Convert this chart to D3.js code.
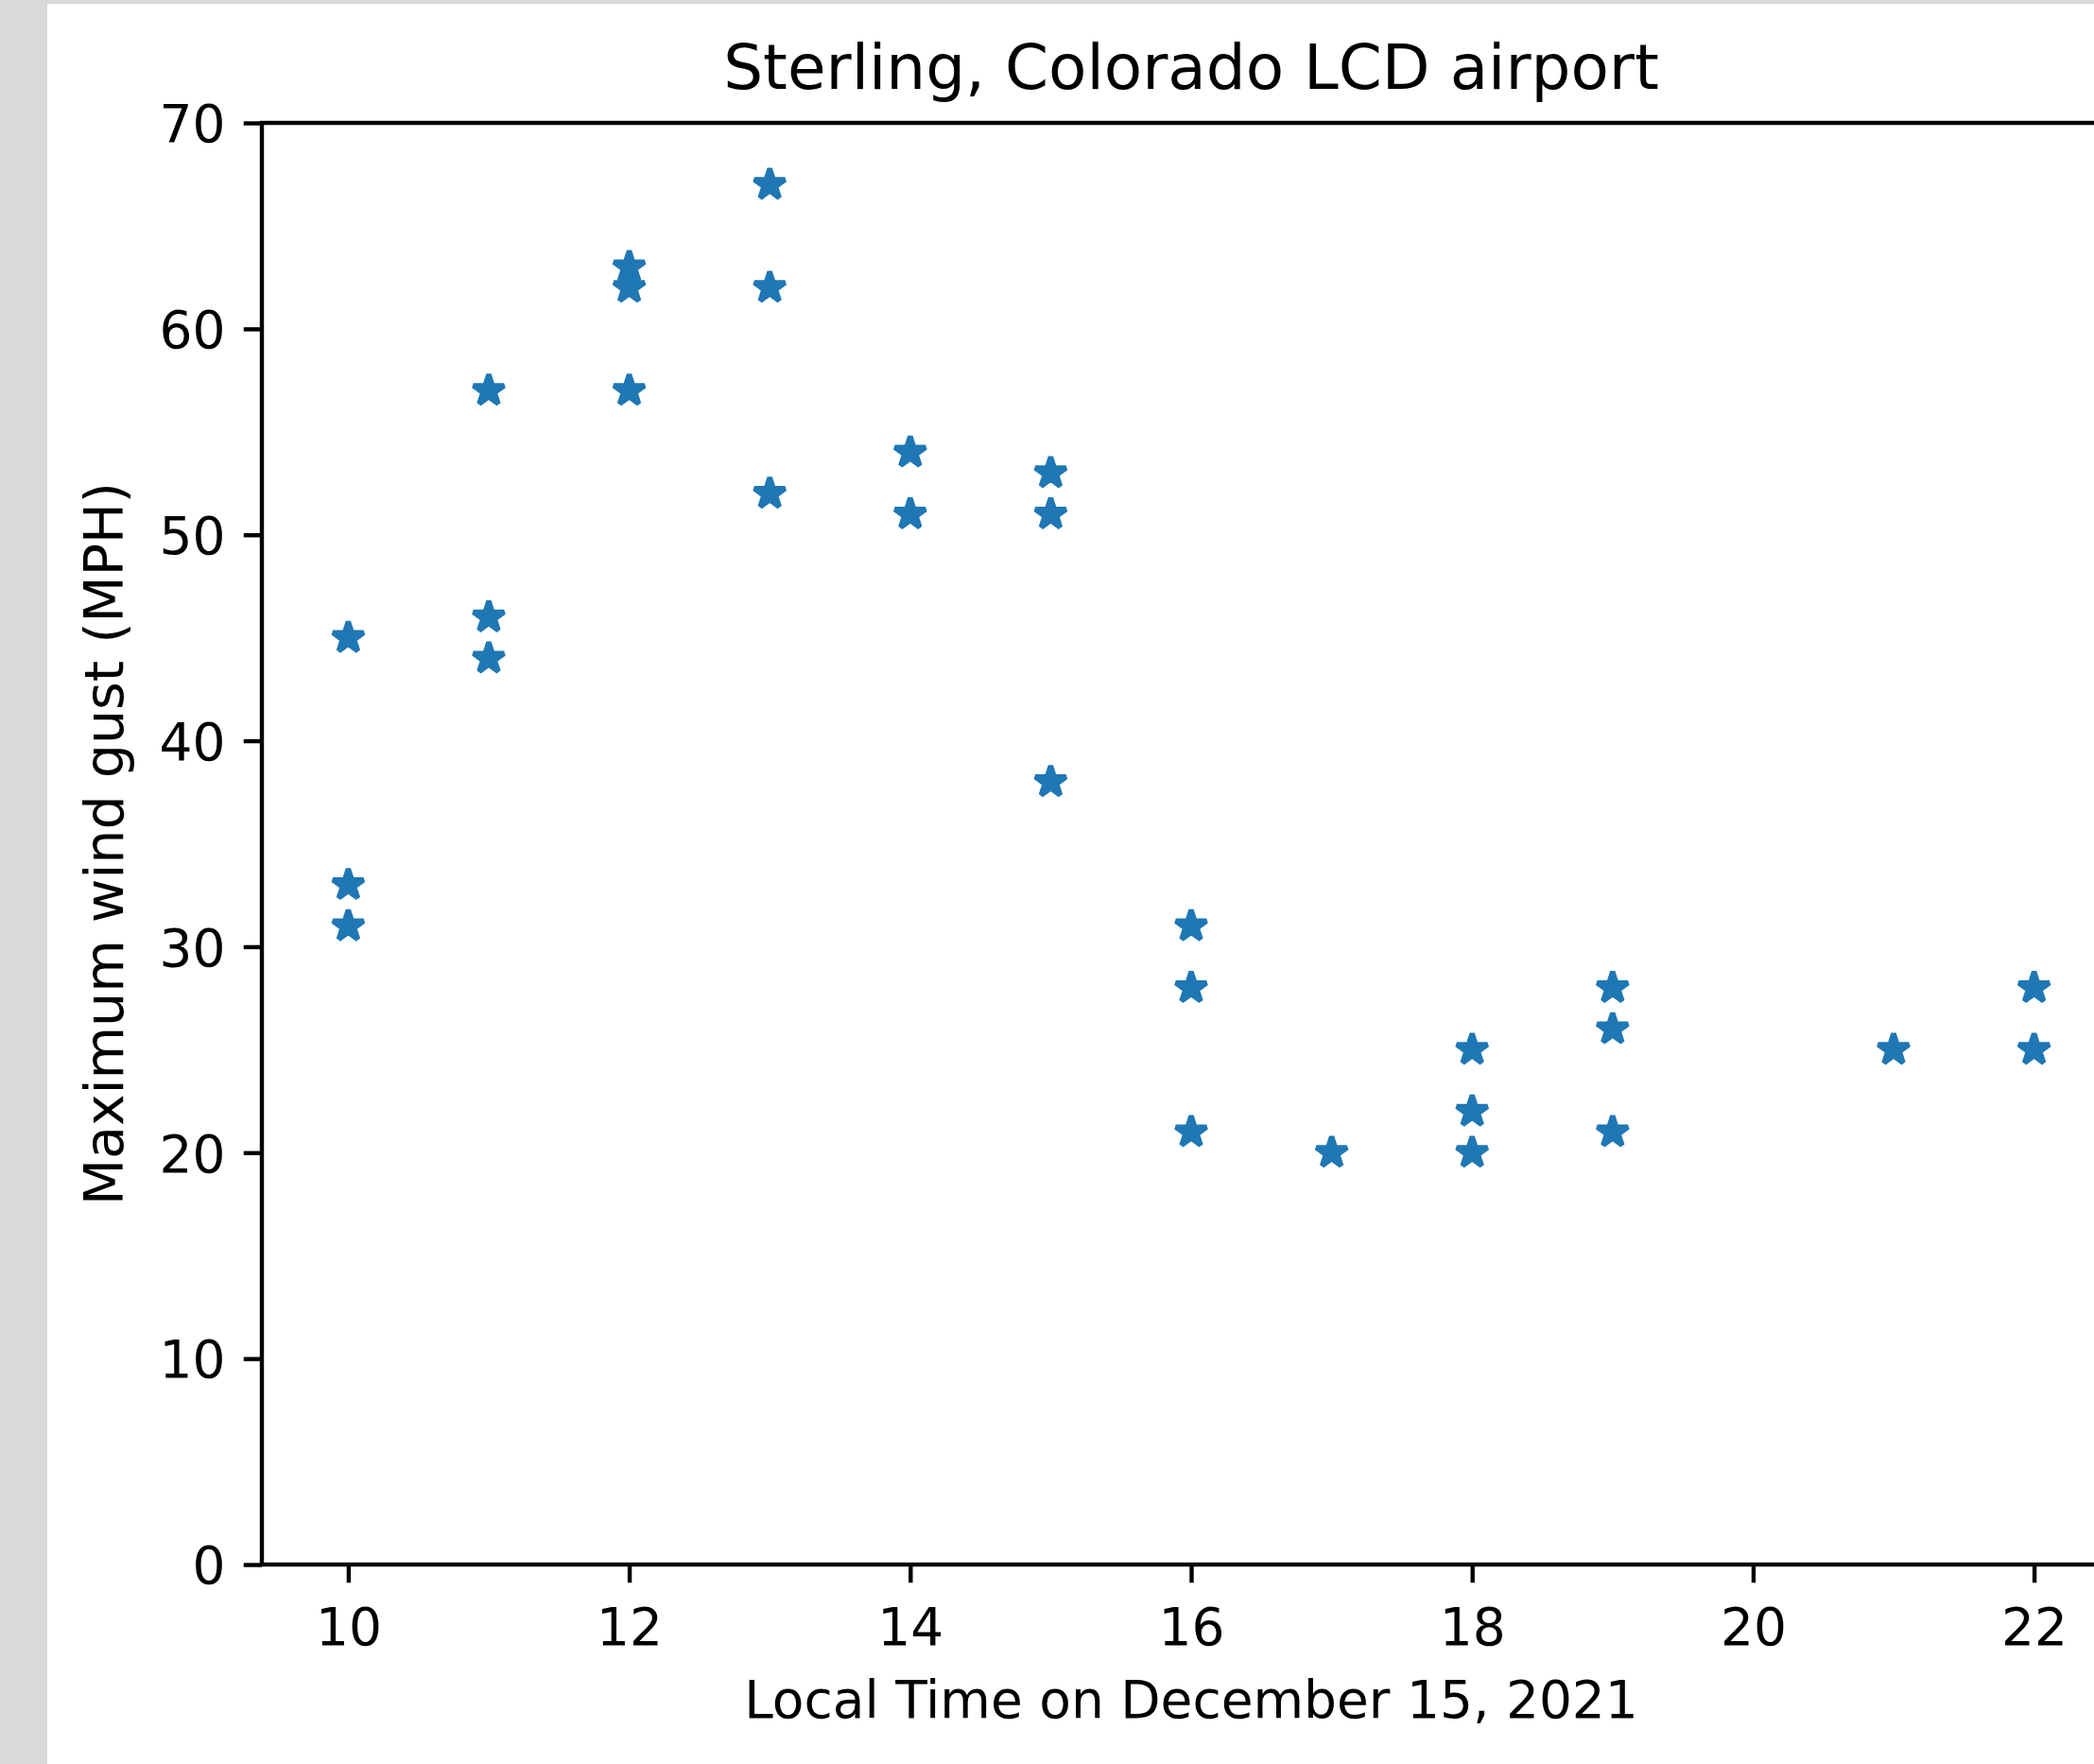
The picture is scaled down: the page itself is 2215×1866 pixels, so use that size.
<!DOCTYPE html>
<html>
<head>
<meta charset="utf-8">
<script src="https://cdn.jsdelivr.net/npm/d3@7"></script>
<style>
    body { margin: 0; background: #fff; }
    svg { display: block; }
    text { font-family: "DejaVu Sans", sans-serif; fill: #000; }
</style>
</head>
<body>
<div id="chart"></div>
<script>
const hours = [10, 10, 10, 11, 11, 11, 12, 12, 12, 13, 13, 13, 14, 14, 15, 15, 15,
    16, 16, 16, 17, 18, 18, 18, 19, 19, 19, 21, 22, 22];
const gusts = [45, 33, 31, 57, 46, 44, 63, 62, 57, 67, 62, 52, 54, 51, 53, 51, 38,
    31, 28, 21, 20, 25, 22, 20, 28, 26, 21, 25, 28, 25];

const xTicks = [10, 12, 14, 16, 18, 20, 22];
const yTicks = [0, 10, 20, 30, 40, 50, 60, 70];

const title = "Sterling, Colorado LCD airport";
const xLabel = "Local Time on December 15, 2021";
const yLabel = "Maximum wind gust (MPH)";

const W = 2215, H = 1866;
const pt = 5.5; // one point in pixels at this scale

const margin = { top: 130, left: 277 };
const width = 2243 - margin.left;
const height = 1655 - margin.top;

const svg = d3.select("#chart")
    .append("svg")
    .attr("width", W)
    .attr("height", H);

// grey page edges
svg.append("rect").attr("x", 0).attr("y", 0).attr("width", W).attr("height", H).attr("fill", "#d9d9d9");
svg.append("rect").attr("x", 50).attr("y", 4).attr("width", W - 50).attr("height", H - 4).attr("fill", "#fff");

const g = svg.append("g")
    .attr("transform", `translate(${margin.left}, ${margin.top})`);

const x = d3.scaleLinear().domain([9.385, 22.615]).range([0, width]);
const y = d3.scaleLinear().domain([0, 70]).range([height, 0]);

// Axes
const xAxis = g.append("g")
    .attr("transform", `translate(0, ${height})`)
    .call(d3.axisBottom(x).tickValues(xTicks).tickSize(3.5 * pt).tickSizeOuter(0));
xAxis.select(".domain").remove();
xAxis.selectAll("line").attr("stroke", "#000").attr("stroke-width", 0.8 * pt);
xAxis.selectAll("text")
    .attr("y", 85)
    .attr("dy", 0)
    .style("font-size", "55px");

const yAxis = g.append("g")
    .call(d3.axisLeft(y).tickValues(yTicks).tickSize(3.5 * pt).tickPadding(3.5 * pt).tickSizeOuter(0));
yAxis.select(".domain").remove();
yAxis.selectAll("line").attr("stroke", "#000").attr("stroke-width", 0.8 * pt);
yAxis.selectAll("text")
    .attr("dy", "0.36em")
    .style("font-size", "55px");

// Frame
g.append("rect")
    .attr("x", 0)
    .attr("y", 0)
    .attr("width", width)
    .attr("height", height)
    .attr("fill", "none")
    .attr("stroke", "#000")
    .attr("stroke-width", 0.8 * pt)
    .attr("stroke-linecap", "square");

// Stars
const R = 3.1 * pt;
const star = d3.symbol().type(d3.symbolStar).size(R * R / 0.8908130915292852);

g.selectAll("path.pt")
    .data(hours.map((h, i) => ({ h, v: gusts[i] })))
    .enter()
    .append("path")
    .attr("class", "pt")
    .attr("transform", d => `translate(${x(d.h)}, ${y(d.v)})`)
    .attr("d", star)
    .attr("fill", "#1f77b4")
    .attr("stroke", "#1f77b4")
    .attr("stroke-width", 1 * pt)
    .attr("stroke-linejoin", "bevel");

// Labels
g.append("text")
    .attr("x", width / 2)
    .attr("y", 94 - margin.top)
    .attr("text-anchor", "middle")
    .style("font-size", "66px")
    .text(title);

g.append("text")
    .attr("x", width / 2)
    .attr("y", 1817 - margin.top)
    .attr("text-anchor", "middle")
    .style("font-size", "55px")
    .text(xLabel);

g.append("text")
    .attr("transform", `translate(${130 - margin.left}, ${height / 2}) rotate(-90)`)
    .attr("text-anchor", "middle")
    .style("font-size", "57px")
    .text(yLabel);
</script>
</body>
</html>
